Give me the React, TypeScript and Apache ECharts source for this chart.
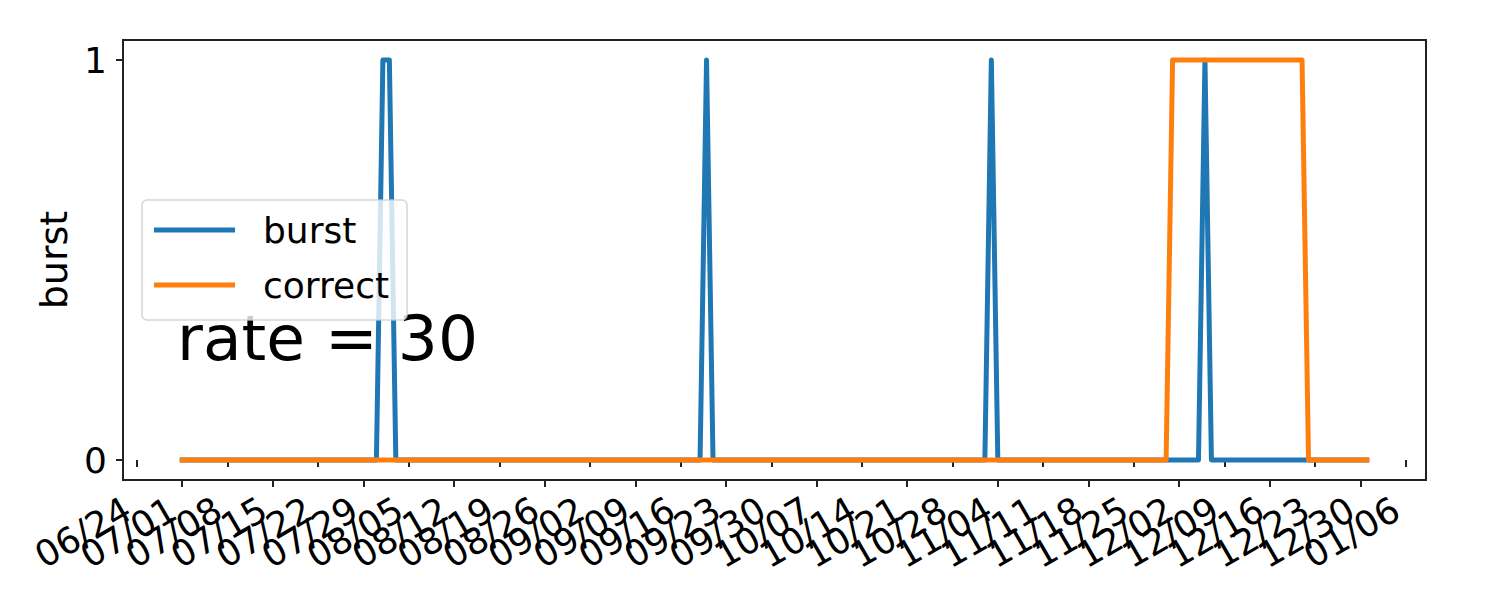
import React, { useEffect, useRef } from "react";
import * as echarts from "echarts";

const DAY = 86400000;
const firstDate = "2019-07-01";

// daily values, 2019-07-01 .. 2019-12-31
const burst = [
  // Jul
  0,0,0,0,0,0,0,0,0,0, 0,0,0,0,0,0,0,0,0,0, 0,0,0,0,0,0,0,0,0,0, 0,
  // Aug
  1,1,0,0,0,0,0,0,0,0, 0,0,0,0,0,0,0,0,0,0, 0,0,0,0,0,0,0,0,0,0, 0,
  // Sep
  0,0,0,0,0,0,0,0,0,0, 0,0,0,0,0,0,0,0,0,1, 0,0,0,0,0,0,0,0,0,0,
  // Oct
  0,0,0,0,0,0,0,0,0,0, 0,0,0,0,0,0,0,0,0,0, 0,0,0,0,0,0,0,0,0,0, 0,
  // Nov
  0,0,1,0,0,0,0,0,0,0, 0,0,0,0,0,0,0,0,0,0, 0,0,0,0,0,0,0,0,0,0,
  // Dec
  0,0,0,0,0,1,0,0,0,0, 0,0,0,0,0,0,0,0,0,0, 0,0,0,0,0,0,0,0,0,0, 0,
];

const correct = [
  // Jul
  0,0,0,0,0,0,0,0,0,0, 0,0,0,0,0,0,0,0,0,0, 0,0,0,0,0,0,0,0,0,0, 0,
  // Aug
  0,0,0,0,0,0,0,0,0,0, 0,0,0,0,0,0,0,0,0,0, 0,0,0,0,0,0,0,0,0,0, 0,
  // Sep
  0,0,0,0,0,0,0,0,0,0, 0,0,0,0,0,0,0,0,0,0, 0,0,0,0,0,0,0,0,0,0,
  // Oct
  0,0,0,0,0,0,0,0,0,0, 0,0,0,0,0,0,0,0,0,0, 0,0,0,0,0,0,0,0,0,0, 0,
  // Nov
  0,0,0,0,0,0,0,0,0,0, 0,0,0,0,0,0,0,0,0,0, 0,0,0,0,0,0,0,0,0,0,
  // Dec
  1,1,1,1,1,1,1,1,1,1, 1,1,1,1,1,1,1,1,1,1, 1,0,0,0,0,0,0,0,0,0, 0,
];

const tickDates = [
  "2019-06-24", "2019-07-01", "2019-07-08", "2019-07-15", "2019-07-22",
  "2019-07-29", "2019-08-05", "2019-08-12", "2019-08-19", "2019-08-26",
  "2019-09-02", "2019-09-09", "2019-09-16", "2019-09-23", "2019-09-30",
  "2019-10-07", "2019-10-14", "2019-10-21", "2019-10-28", "2019-11-04",
  "2019-11-11", "2019-11-18", "2019-11-25", "2019-12-02", "2019-12-09",
  "2019-12-16", "2019-12-23", "2019-12-30", "2020-01-06",
];

const yTicks = [0, 1];
const annotation = "rate = 30";

const FONT = "'DejaVu Sans', sans-serif";

function ts(s: string) {
  return Date.parse(s + "T00:00:00Z");
}
function fmt(v: number) {
  const d = new Date(v);
  const m = String(d.getUTCMonth() + 1).padStart(2, "0");
  const dd = String(d.getUTCDate()).padStart(2, "0");
  return m + "/" + dd;
}

export default function App() {
  const ref = useRef<HTMLDivElement>(null);
  useEffect(() => {
    if (!ref.current) return;
    const chart = echarts.init(ref.current, undefined, { renderer: "svg" });
    const t0 = ts(firstDate);
    const xs = burst.map((_, i) => t0 + i * DAY);
    const xFirst = xs[0];
    const xLast = xs[xs.length - 1];
    const pad = (xLast - xFirst) * 0.05;
    const tickVals = tickDates.map(ts);
    // split the weekly labels over two overlapping axes so none is auto-hidden
    const evenTicks = tickVals.filter((_, i) => i % 2 === 0);
    const oddTicks = tickVals.filter((_, i) => i % 2 === 1);

    const makeX = (vals: number[]) => ({
      type: "value",
      position: "bottom",
      offset: 0,
      min: xFirst - pad,
      max: xLast + pad,
      splitLine: { show: false },
      axisLine: { show: false },
      axisTick: {
        show: true,
        length: 7,
        lineStyle: { color: "#222", width: 2 },
        customValues: vals,
      },
      axisLabel: {
        customValues: vals,
        showMinLabel: true,
        showMaxLabel: true,
        rotate: 30,
        align: "right",
        verticalAlign: "bottom",
        margin: 42,
        fontSize: 36,
        fontFamily: FONT,
        color: "#000",
        hideOverlap: false,
        formatter: (v: number) => fmt(v),
      },
    });

    chart.setOption({
      animation: false,
      backgroundColor: "#ffffff",
      textStyle: { fontFamily: FONT },
      grid: {
        left: 123,
        right: 74,
        top: 40,
        bottom: 120,
        show: true,
        borderColor: "#222",
        borderWidth: 2,
        backgroundColor: "transparent",
      },
      legend: {
        orient: "vertical",
        left: 142,
        top: 200,
        icon: "rect",
        itemWidth: 81,
        itemHeight: 5,
        itemGap: 15,
        padding: [10, 18, 15, 12],
        backgroundColor: "rgba(255,255,255,0.8)",
        borderColor: "rgba(204,204,204,0.8)",
        borderWidth: 1.5,
        borderRadius: 5,
        z: 10,
        textStyle: {
          fontFamily: FONT,
          fontSize: 36,
          color: "#000",
          lineHeight: 40,
          padding: [0, 0, 0, 23],
        },
        data: ["burst", "correct"],
      },
      xAxis: [makeX(evenTicks), makeX(oddTicks)],
      yAxis: {
        type: "value",
        min: -0.05,
        max: 1.05,
        name: "burst",
        nameLocation: "middle",
        nameGap: 41,
        nameTextStyle: { fontSize: 38, fontFamily: FONT, color: "#000" },
        splitLine: { show: false },
        axisLine: { show: false },
        axisTick: {
          show: true,
          length: 7,
          lineStyle: { color: "#222", width: 2 },
          customValues: yTicks,
        },
        axisLabel: {
          customValues: yTicks,
          margin: 16,
          fontSize: 36,
          fontFamily: FONT,
          color: "#000",
          formatter: (v: number) => String(v),
        },
      },
      graphic: [
        {
          type: "text",
          z: 3,
          x: 177,
          y: 338,
          style: {
            text: annotation,
            font: "63px 'DejaVu Sans', sans-serif",
            fill: "#000",
            verticalAlign: "middle",
            align: "left",
          },
        },
      ],
      series: [
        {
          name: "burst",
          type: "line",
          xAxisIndex: 0,
          showSymbol: false,
          symbol: "none",
          color: "#1f77b4",
          lineStyle: { width: 5, color: "#1f77b4", join: "round", cap: "square" },
          data: xs.map((x, i) => [x, burst[i]]),
          z: 2,
        },
        {
          name: "correct",
          type: "line",
          xAxisIndex: 0,
          showSymbol: false,
          symbol: "none",
          color: "#ff7f0e",
          lineStyle: { width: 5, color: "#ff7f0e", join: "round", cap: "square" },
          data: xs.map((x, i) => [x, correct[i]]),
          z: 3,
        },
      ],
    });
    return () => chart.dispose();
  }, []);
  return (
    <div
      ref={ref}
      style={{ position: "fixed", left: 0, top: 0, width: 1500, height: 600, background: "#fff" }}
    />
  );
}
